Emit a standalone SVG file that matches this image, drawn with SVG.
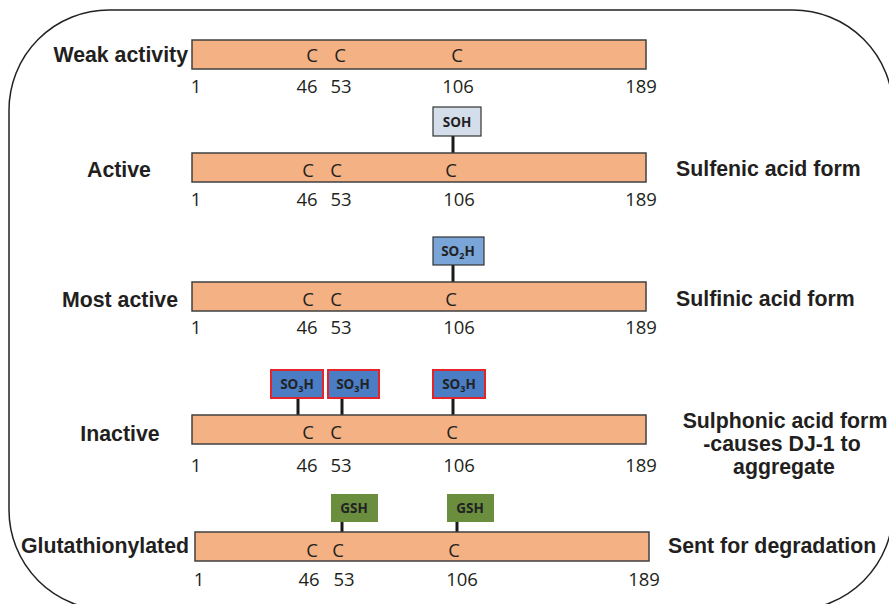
<svg xmlns="http://www.w3.org/2000/svg" width="889" height="604" viewBox="0 0 889 604">
<style>
.bar{fill:#F4B183;stroke:#404040;stroke-width:1.5}
.lbl{font-family:"Liberation Sans",Arial,sans-serif;font-weight:bold;font-size:21.3px;fill:#231F20}
.num{font-family:"Open Sans","Liberation Sans",sans-serif;font-size:18.5px;fill:#231F20;text-anchor:middle}
.cys{font-family:"Open Sans","Liberation Sans",sans-serif;font-size:18.5px;fill:#231F20;text-anchor:middle}
.box{font-family:"Open Sans","Liberation Sans",sans-serif;font-weight:bold;font-size:13.5px;fill:#222;text-anchor:middle}
.sub{font-size:9px}
.stem{stroke:#1a1a1a;stroke-width:3}
.soh{fill:#D3DEEA;stroke:#333;stroke-width:1.2}
.so2h{fill:#79A5D9;stroke:#333;stroke-width:1.2}
.so3h{fill:#4A7DC4;stroke:#E3252B;stroke-width:2}
.gsh{fill:#6A8E3E}
</style>
<rect x="9" y="10" width="884" height="600" rx="100" ry="100" fill="none" stroke="#222" stroke-width="1.5"/>

<g id="connectors">
<line class="stem" x1="453" y1="136" x2="453" y2="153"/>
<line class="stem" x1="453" y1="265" x2="453" y2="282"/>
<line class="stem" x1="298" y1="398" x2="298" y2="415"/>
<line class="stem" x1="342" y1="398" x2="342" y2="415"/>
<line class="stem" x1="453" y1="398" x2="453" y2="415"/>
<line class="stem" x1="342" y1="522" x2="342" y2="532"/>
<line class="stem" x1="457" y1="522" x2="457" y2="532"/>
</g>

<g id="row-weak">
<text class="lbl" x="188" y="62" text-anchor="end">Weak activity</text>
<rect class="bar" x="192" y="40" width="454" height="29"/>
<text class="cys" x="312" y="62">C</text><text class="cys" x="340" y="62">C</text><text class="cys" x="457" y="62">C</text>
<text class="num" x="196" y="93">1</text><text class="num" x="307" y="93">46</text><text class="num" x="341" y="93">53</text><text class="num" x="458" y="93">106</text><text class="num" x="641" y="93">189</text>
</g>

<g id="row-active">
<text class="lbl" x="119" y="177" text-anchor="middle">Active</text>
<rect class="bar" x="192" y="153" width="454" height="29"/>
<text class="cys" x="308" y="177">C</text><text class="cys" x="336" y="177">C</text><text class="cys" x="451" y="177">C</text>
<text class="num" x="196" y="206">1</text><text class="num" x="307" y="206">46</text><text class="num" x="341" y="206">53</text><text class="num" x="459" y="206">106</text><text class="num" x="641" y="206">189</text>
<text class="lbl" x="676" y="176">Sulfenic acid form</text>
</g>
<g id="mod-soh">
<rect class="soh" x="433" y="107" width="48" height="29"/>
<text class="box" x="457" y="127">SOH</text>
</g>

<g id="row-most">
<text class="lbl" x="120" y="307" text-anchor="middle">Most active</text>
<rect class="bar" x="192" y="282" width="454" height="29"/>
<text class="cys" x="308" y="306">C</text><text class="cys" x="336" y="306">C</text><text class="cys" x="451" y="306">C</text>
<text class="num" x="196" y="334">1</text><text class="num" x="307" y="334">46</text><text class="num" x="341" y="334">53</text><text class="num" x="459" y="334">106</text><text class="num" x="641" y="334">189</text>
<text class="lbl" x="676" y="306">Sulfinic acid form</text>
</g>
<g id="mod-so2h">
<rect class="so2h" x="433" y="237" width="51" height="28"/>
<text class="box" x="458" y="256">SO<tspan class="sub" dy="3">2</tspan><tspan dy="-3">H</tspan></text>
</g>

<g id="row-inactive">
<text class="lbl" x="120" y="441" text-anchor="middle">Inactive</text>
<rect class="bar" x="192" y="415" width="454" height="29"/>
<text class="cys" x="308" y="439">C</text><text class="cys" x="336" y="439">C</text><text class="cys" x="452" y="439">C</text>
<text class="num" x="196" y="472">1</text><text class="num" x="307" y="472">46</text><text class="num" x="341" y="472">53</text><text class="num" x="459" y="472">106</text><text class="num" x="641" y="472">189</text>
<text class="lbl" x="785" y="428" text-anchor="middle">Sulphonic acid form</text>
<text class="lbl" x="782" y="451" text-anchor="middle">-causes DJ-1 to</text>
<text class="lbl" x="784" y="474" text-anchor="middle">aggregate</text>
</g>
<g id="mod-so3h-46">
<rect class="so3h" x="271" y="370" width="52" height="28"/>
<text class="box" x="297" y="389">SO<tspan class="sub" dy="3">3</tspan><tspan dy="-3">H</tspan></text>
</g>
<g id="mod-so3h-53">
<rect class="so3h" x="328" y="370" width="51" height="28"/>
<text class="box" x="353" y="389">SO<tspan class="sub" dy="3">3</tspan><tspan dy="-3">H</tspan></text>
</g>
<g id="mod-so3h-106">
<rect class="so3h" x="433" y="370" width="52" height="28"/>
<text class="box" x="459" y="389">SO<tspan class="sub" dy="3">3</tspan><tspan dy="-3">H</tspan></text>
</g>

<g id="row-gsh">
<text class="lbl" x="189" y="553" text-anchor="end">Glutathionylated</text>
<rect class="bar" x="195" y="532" width="454" height="29"/>
<text class="cys" x="312" y="557">C</text><text class="cys" x="338" y="557">C</text><text class="cys" x="454" y="557">C</text>
<text class="num" x="199" y="586">1</text><text class="num" x="309" y="586">46</text><text class="num" x="344" y="586">53</text><text class="num" x="462" y="586">106</text><text class="num" x="644" y="586">189</text>
<text class="lbl" x="668" y="553">Sent for degradation</text>
</g>
<g id="mod-gsh-53">
<rect class="gsh" x="331" y="494" width="47" height="28"/>
<text class="box" x="354" y="513">GSH</text>
</g>
<g id="mod-gsh-106">
<rect class="gsh" x="447" y="494" width="47" height="28"/>
<text class="box" x="470" y="513">GSH</text>
</g>
</svg>
